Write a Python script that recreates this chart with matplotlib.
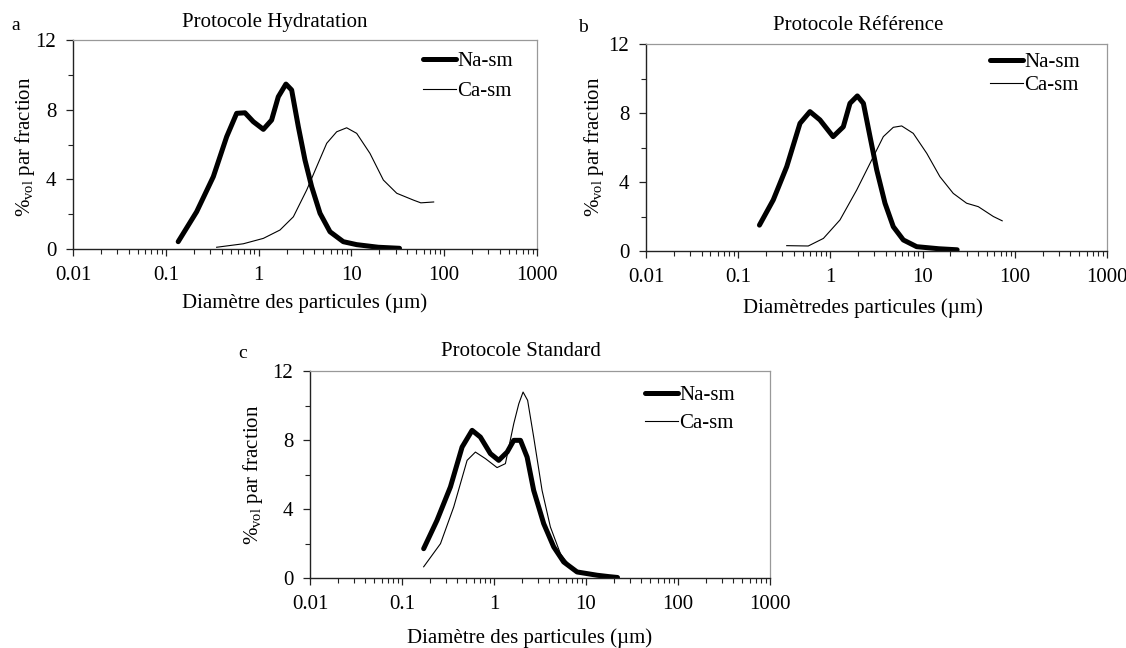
import matplotlib
matplotlib.use("Agg")
import matplotlib.pyplot as plt
from matplotlib.ticker import LogLocator, FixedLocator, NullFormatter, FixedFormatter

plt.rcParams['font.family'] = ['Liberation Serif', 'DejaVu Serif']
plt.rcParams['mathtext.fontset'] = 'custom'
plt.rcParams['mathtext.rm'] = 'Liberation Serif'
plt.rcParams['mathtext.it'] = 'Liberation Serif:italic'

# ---- data: panel a (Protocole Hydratation)
a_na_x = [0.136, 0.215, 0.325, 0.453, 0.58, 0.713, 0.877, 1.125, 1.38, 1.63, 1.97, 2.27, 2.68, 3.16,
          3.73, 4.59, 5.88, 8.18, 11.4, 19.5, 33]
a_na_y = [0.42, 2.14, 4.15, 6.45, 7.79, 7.82, 7.31, 6.87, 7.4, 8.74, 9.47, 9.13, 7.02, 5.11,
          3.58, 2.05, 0.99, 0.42, 0.25, 0.1, 0.04]
a_ca_x = [0.353, 0.684, 1.125, 1.7, 2.37, 3.3, 4.22, 5.42, 6.94, 8.89, 11.4, 15.85, 22.1, 30.8, 47, 56, 77]
a_ca_y = [0.1, 0.3, 0.61, 1.09, 1.85, 3.39, 4.72, 6.07, 6.73, 6.96, 6.64, 5.49, 3.96, 3.2, 2.8, 2.65, 2.7]

# ---- data: panel b (Protocole Référence)
b_na_x = [0.17, 0.24, 0.336, 0.468, 0.6, 0.77, 1.07, 1.38, 1.63, 1.96, 2.28, 2.69, 3.18, 3.91, 4.81,
          6.18, 8.63, 15, 23.7]
b_na_y = [1.5, 2.96, 4.89, 7.4, 8.08, 7.6, 6.63, 7.2, 8.56, 8.99, 8.56, 6.63, 4.7, 2.77, 1.41,
          0.64, 0.25, 0.13, 0.07]
b_ca_x = [0.336, 0.575, 0.84, 1.27, 1.93, 2.69, 3.75, 4.81, 5.93, 7.92, 11.1, 15.4, 21.5, 30, 40.2, 58.5, 73]
b_ca_y = [0.31, 0.29, 0.73, 1.8, 3.54, 5.08, 6.63, 7.17, 7.25, 6.82, 5.66, 4.31, 3.34, 2.77, 2.57, 2.0, 1.75]

# ---- data: panel c (Protocole Standard)
c_na_x = [0.172, 0.24, 0.336, 0.45, 0.578, 0.711, 0.914, 1.125, 1.39, 1.64, 1.94, 2.29, 2.7, 3.47,
          4.46, 5.72, 8.0, 13.2, 17.7, 22]
c_na_y = [1.7, 3.34, 5.28, 7.59, 8.56, 8.17, 7.21, 6.82, 7.3, 7.98, 7.98, 7.01, 5.08, 3.15,
          1.8, 0.93, 0.35, 0.16, 0.08, 0.03]
c_ca_x = [0.172, 0.262, 0.365, 0.51, 0.628, 0.807, 1.08, 1.33, 1.64, 1.86, 2.07, 2.32, 2.7, 3.33,
          4.1, 5.27, 7.06, 10.3, 15.6, 22]
c_ca_y = [0.65, 1.99, 4.12, 6.82, 7.3, 6.92, 6.4, 6.63, 8.95, 10.1, 10.78, 10.3, 8.17, 5.08,
          2.96, 1.41, 0.54, 0.21, 0.1, 0.03]

series_labels = ['Na-sm', 'Ca-sm']
titles = ['Protocole Hydratation', 'Protocole Référence', 'Protocole Standard']
panel_letters = ['a', 'b', 'c']
xlabels = ['Diamètre des particules (µm)', 'Diamètredes particules (µm)', 'Diamètre des particules (µm)']
ylabel = '%$_{\\mathrm{vol}}$ par fraction'
xticks = [0.01, 0.1, 1, 10, 100, 1000]
xtick_labels = ['0.01', '0.1', '1', '10', '100', '1000']
yticks = [0, 4, 8, 12]
ytick_labels = ['0', '4', '8', '12']

W, H = 1126, 648
fig = plt.figure(figsize=(W / 100, H / 100), dpi=100)

# axes boxes in pixels: left, top, right, bottom
boxes = [(73, 40, 537, 249), (646, 44, 1107, 251), (310, 371, 770, 578)]
data = [((a_na_x, a_na_y), (a_ca_x, a_ca_y)),
        ((b_na_x, b_na_y), (b_ca_x, b_ca_y)),
        ((c_na_x, c_na_y), (c_ca_x, c_ca_y))]
title_pos = [(275, 23), (858, 26), (521, 351)]
letter_pos = [(16, 26), (583, 27), (243, 353)]
xlabel_pos = [(305, 303), (863, 308), (530, 638)]
ylabel_pos = [(25, 147), (594, 147), (253, 475)]
# legend: (text right edge x, first row centre y, row gap)
legend_pos = [(513, 62, 31), (1080, 63, 24), (735, 396, 29)]

FS = 15
for i in range(3):
    l, t, r, b = boxes[i]
    ax = fig.add_axes([l / W, 1 - b / H, (r - l) / W, (b - t) / H])
    (nx, ny), (cx, cy) = data[i]
    ax.plot(nx, ny, color='black', lw=3.6, solid_capstyle='round', solid_joinstyle='round',
            label=series_labels[0])
    ax.plot(cx, cy, color='black', lw=0.8, solid_joinstyle='round', label=series_labels[1])
    ax.set_xscale('log')
    ax.set_xlim(0.01, 1000)
    ax.set_ylim(0, 12)
    ax.xaxis.set_major_locator(FixedLocator(xticks))
    ax.xaxis.set_major_formatter(FixedFormatter(xtick_labels))
    ax.xaxis.set_minor_locator(LogLocator(base=10, subs=range(2, 10), numticks=20))
    ax.xaxis.set_minor_formatter(NullFormatter())
    ax.yaxis.set_major_locator(FixedLocator(yticks))
    ax.yaxis.set_major_formatter(FixedFormatter(ytick_labels))
    ax.yaxis.set_minor_locator(FixedLocator([2, 6, 10]))
    ax.tick_params(axis='both', which='major', direction='out', length=5, width=0.9,
                   labelsize=FS, color='#222222', pad=7)
    ax.tick_params(axis='both', which='minor', direction='out', length=3.5, width=0.8, color='#222222')
    for s in ['top', 'right']:
        ax.spines[s].set_color('#999999')
        ax.spines[s].set_linewidth(0.9)
    for s in ['left', 'bottom']:
        ax.spines[s].set_color('#222222')
        ax.spines[s].set_linewidth(1.0)
    lx, ly, gap = legend_pos[i]
    row = FS * 100 / 72.0
    ax.legend(loc='upper right', frameon=False, fontsize=FS, handlelength=1.6,
              handletextpad=0.05, labelspacing=(gap - row) / row, borderaxespad=0, borderpad=0,
              bbox_to_anchor=(lx / W, 1 - (ly - row / 2) / H), bbox_transform=fig.transFigure)

    fig.text(title_pos[i][0] / W, 1 - title_pos[i][1] / H, titles[i], ha='center', va='center', fontsize=FS)
    fig.text(letter_pos[i][0] / W, 1 - letter_pos[i][1] / H, panel_letters[i], ha='center', va='center',
             fontsize=FS - 1)
    fig.text(xlabel_pos[i][0] / W, 1 - xlabel_pos[i][1] / H, xlabels[i], ha='center', va='center', fontsize=FS)
    fig.text(ylabel_pos[i][0] / W, 1 - ylabel_pos[i][1] / H, ylabel, ha='center', va='center',
             rotation=90, fontsize=FS)

fig.savefig('out.png', dpi=100)
